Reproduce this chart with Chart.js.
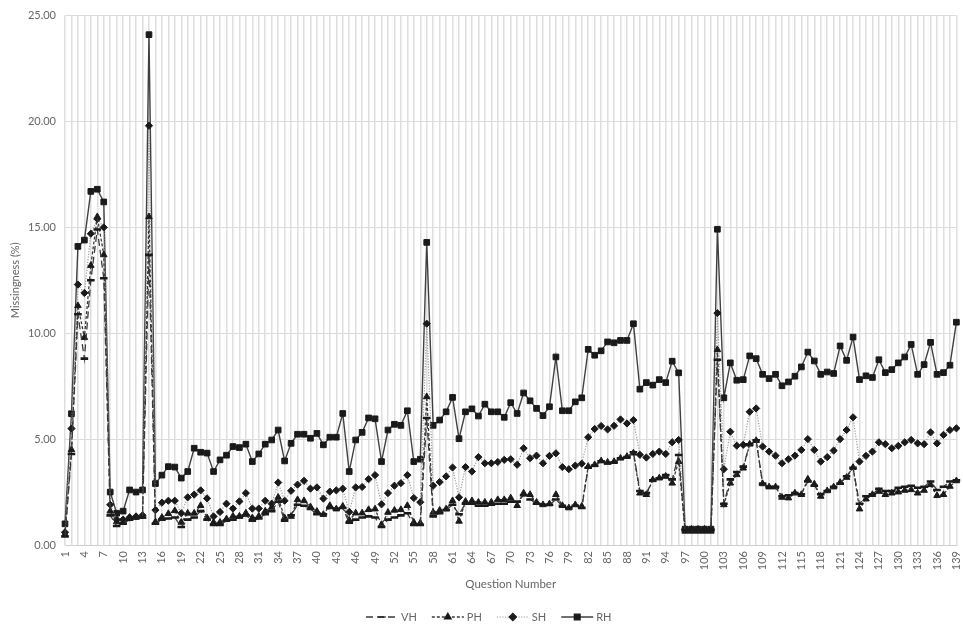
<!DOCTYPE html>
<html>
<head>
<meta charset="utf-8">
<script src="https://cdn.jsdelivr.net/npm/chart.js@4.4.0/dist/chart.umd.min.js"></script>
<style>
  html, body { margin: 0; padding: 0; background: #fff; }
  #wrap { width: 963px; height: 625px; position: relative; }
</style>
</head>
<body>
<div id="wrap"><canvas id="missingChart"></canvas></div>
<script>
// Question numbers 1..139 on the category axis
const questionNumbers = Array.from({ length: 139 }, (_, i) => String(i + 1));

const vhValues = [
  0.4, 4.3, 10.9, 8.8, 12.5, 14.9, 12.6, 1.4, 0.9, 1.0,
  1.2, 1.3, 1.3, 13.7, 1.0, 1.2, 1.25, 1.3, 0.85, 1.2,
  1.3, 1.6, 1.2, 0.95, 0.95, 1.15, 1.2, 1.3, 1.4, 1.15,
  1.25, 1.45, 1.6, 2.05, 1.15, 1.4, 1.9, 1.85, 1.7, 1.45,
  1.45, 1.75, 1.7, 1.75, 1.05, 1.2, 1.3, 1.35, 1.3, 0.85,
  1.2, 1.3, 1.4, 1.5, 0.95, 0.95, 6.0, 1.35, 1.5, 1.65,
  1.9, 1.45, 1.95, 1.95, 1.85, 1.85, 1.9, 1.95, 1.95, 2.05,
  2.05, 2.35, 2.15, 1.95, 1.9, 1.9, 2.15, 1.85, 1.75, 1.85,
  1.75, 3.65, 3.75, 3.95, 3.85, 3.9, 4.1, 4.15, 4.38, 2.55,
  2.45, 3.05, 3.15, 3.3, 3.1, 4.25, 0.7, 0.7, 0.7, 0.7,
  0.7, 8.75, 1.95, 3.1, 3.45, 3.7, 4.75, 4.95, 2.9, 2.75,
  2.75, 2.3, 2.35, 2.45, 2.4, 3.0, 2.8, 2.4, 2.55, 2.75,
  2.9, 3.25, 3.65, 1.95, 2.3, 2.4, 2.65, 2.55, 2.55, 2.7,
  2.75, 2.8, 2.7, 2.75, 3.0, 2.6, 2.75, 3.0, 3.05
];

const phValues = [
  0.5, 4.5, 11.3, 9.8, 13.2, 15.5, 13.7, 1.6, 1.1, 1.1,
  1.3, 1.3, 1.35, 15.5, 1.1, 1.3, 1.48, 1.62, 1.07, 1.5,
  1.5, 1.86, 1.28, 1.07, 1.07, 1.23, 1.36, 1.36, 1.51, 1.28,
  1.36, 1.6, 1.78, 2.25, 1.28, 1.35, 2.14, 2.09, 1.8, 1.59,
  1.44, 1.86, 1.7, 1.83, 1.17, 1.51, 1.51, 1.67, 1.7, 0.96,
  1.54, 1.64, 1.67, 1.86, 1.07, 1.04, 7.0, 1.54, 1.64, 1.7,
  2.09, 1.12, 2.06, 2.09, 2.02, 2.02, 2.02, 2.14, 2.14, 2.22,
  1.86, 2.45, 2.38, 2.02, 1.9, 1.94, 2.38, 1.86, 1.75, 1.9,
  1.83, 3.71, 3.79, 3.97, 3.91, 3.94, 4.1, 4.18, 4.34, 2.45,
  2.38, 3.08, 3.16, 3.24, 2.92, 3.94, 0.65, 0.65, 0.65, 0.65,
  0.65, 9.22, 1.9, 2.92, 3.32, 3.63, 4.76, 4.93, 2.89, 2.74,
  2.74, 2.25, 2.22, 2.45, 2.38, 3.11, 2.88, 2.3, 2.56, 2.74,
  2.95, 3.19, 3.66, 1.7, 2.17, 2.38, 2.53, 2.38, 2.45, 2.5,
  2.58, 2.61, 2.45, 2.58, 2.85, 2.33, 2.38, 2.77, 3.03
];

const shValues = [
  0.6, 5.5, 12.3, 11.9, 14.7, 15.4, 15.0, 1.9, 1.2, 1.2,
  1.3, 1.35, 1.4, 19.8, 1.65, 2.0, 2.09, 2.09, 1.5, 2.25,
  2.38, 2.58, 2.2, 1.35, 1.56, 1.95, 1.72, 2.06, 2.45, 1.72,
  1.72, 2.09, 1.95, 2.95, 2.09, 2.56, 2.85, 3.03, 2.66, 2.72,
  2.19, 2.52, 2.58, 2.66, 1.56, 2.72, 2.74, 3.11, 3.3, 1.92,
  2.45, 2.8, 2.92, 3.3, 2.22, 2.02, 10.45, 2.8, 2.97, 3.24,
  3.66, 2.25, 3.68, 3.47, 4.15, 3.86, 3.86, 3.92, 4.02, 4.05,
  3.79, 4.57, 4.1, 4.22, 3.86, 4.21, 4.33, 3.68, 3.58, 3.75,
  3.84, 5.09, 5.48, 5.62, 5.46, 5.63, 5.93, 5.74, 5.9, 4.26,
  4.13, 4.3, 4.41, 4.3, 4.85, 4.96, 0.75, 0.75, 0.75, 0.75,
  0.75, 10.95, 3.58, 5.35, 4.69, 4.73, 6.29, 6.45, 4.65, 4.41,
  4.22, 3.86, 4.05, 4.22, 4.49, 5.0, 4.49, 3.94, 4.15, 4.46,
  5.0, 5.43, 6.03, 3.94, 4.21, 4.41, 4.85, 4.76, 4.57, 4.68,
  4.85, 4.96, 4.8, 4.76, 5.32, 4.8, 5.2, 5.43, 5.51
];

const rhValues = [
  1.0, 6.2, 14.1, 14.4, 16.7, 16.8, 16.2, 2.5, 1.5, 1.6,
  2.6, 2.5, 2.6, 24.1, 2.9, 3.3, 3.7, 3.68, 3.16, 3.47,
  4.57, 4.38, 4.34, 3.47, 4.02, 4.24, 4.65, 4.6, 4.76, 3.94,
  4.3, 4.76, 4.96, 5.43, 3.97, 4.8, 5.23, 5.23, 5.04, 5.27,
  4.73, 5.09, 5.09, 6.21, 3.47, 4.96, 5.32, 6.0, 5.96, 3.94,
  5.43, 5.7, 5.65, 6.34, 3.94, 4.05, 14.29, 5.65, 5.9, 6.29,
  6.97, 5.02, 6.29, 6.43, 6.09, 6.65, 6.29, 6.29, 6.03, 6.72,
  6.21, 7.18, 6.81, 6.45, 6.11, 6.53, 8.88, 6.34, 6.34, 6.76,
  6.95, 9.24, 8.96, 9.17, 9.59, 9.55, 9.66, 9.66, 10.45, 7.36,
  7.67, 7.55, 7.81, 7.67, 8.68, 8.13, 0.75, 0.75, 0.75, 0.75,
  0.75, 14.91, 6.95, 8.6, 7.78, 7.81, 8.93, 8.8, 8.06, 7.86,
  8.06, 7.52, 7.7, 7.97, 8.41, 9.11, 8.69, 8.06, 8.17, 8.1,
  9.4, 8.72, 9.82, 7.81, 7.99, 7.91, 8.75, 8.14, 8.28, 8.6,
  8.88, 9.47, 8.06, 8.52, 9.57, 8.06, 8.14, 8.49, 10.52
];

const yTicks = [0, 5, 10, 15, 20, 25];

const FONT = 'Lato, "Open Sans", sans-serif';
const TEXT_GREY = '#666666';

// Legend drawn under the axis title: line sample with the marker in its middle
const bottomLegend = {
    id: 'bottomLegend',
    afterDraw(chart) {
        const ctx = chart.ctx;
        const y = 617;
        let x = 366;
        ctx.save();
        ctx.font = '11px ' + FONT;
        ctx.textBaseline = 'middle';
        chart.data.datasets.forEach(ds => {
            ctx.strokeStyle = ds.borderColor;
            ctx.lineWidth = ds.borderWidth;
            ctx.setLineDash(ds.borderDash || []);
            ctx.beginPath();
            ctx.moveTo(x, y);
            ctx.lineTo(x + 32, y);
            ctx.stroke();
            ctx.setLineDash([]);
            ctx.fillStyle = ds.pointBackgroundColor;
            ctx.strokeStyle = ds.pointBorderColor;
            Chart.helpers.drawPoint(ctx, {
                pointStyle: ds.pointStyle,
                radius: ds.pointRadius,
                borderWidth: ds.pointBorderWidth,
                rotation: 0
            }, x + 16, y);
            ctx.fillStyle = TEXT_GREY;
            ctx.fillText(ds.label, x + 35, y);
            x += 35 + ctx.measureText(ds.label).width + 15;
        });
        ctx.restore();
    }
};

document.addEventListener('DOMContentLoaded', () => {
    const ctx = document.getElementById('missingChart').getContext('2d');
    new Chart(ctx, {
        type: 'line',
        data: {
            labels: questionNumbers,
            datasets: [
                {
                    label: 'VH', data: vhValues,
                    borderColor: '#3a3a3a', borderWidth: 1.3, borderDash: [7, 4],
                    pointStyle: 'line', pointRadius: 3.8, pointBorderWidth: 2.6,
                    pointBackgroundColor: '#1a1a1a', pointBorderColor: '#1a1a1a'
                },
                {
                    label: 'PH', data: phValues,
                    borderColor: '#3a3a3a', borderWidth: 1.3, borderDash: [3, 2],
                    pointStyle: 'triangle', pointRadius: 3.8, pointBorderWidth: 1,
                    pointBackgroundColor: '#1a1a1a', pointBorderColor: '#1a1a1a'
                },
                {
                    label: 'SH', data: shValues,
                    borderColor: '#9a9a9a', borderWidth: 1.2, borderDash: [1.2, 1.5],
                    pointStyle: 'rectRot', pointRadius: 3.6, pointBorderWidth: 1,
                    pointBackgroundColor: '#1a1a1a', pointBorderColor: '#1a1a1a'
                },
                {
                    label: 'RH', data: rhValues,
                    borderColor: '#404040', borderWidth: 1.4,
                    pointStyle: 'rect', pointRadius: 4, pointBorderWidth: 1,
                    pointBackgroundColor: '#1a1a1a', pointBorderColor: '#1a1a1a'
                }
            ]
        },
        options: {
            responsive: true,
            maintainAspectRatio: false,
            animation: false,
            layout: { padding: { top: 7, right: 1, bottom: 30, left: 0 } },
            elements: { line: { tension: 0 } },
            plugins: {
                legend: { display: false },
                tooltip: { enabled: false }
            },
            scales: {
                x: {
                    offset: false,
                    grid: { color: '#dedede', lineWidth: 1.5, drawTicks: false },
                    border: { color: '#cfcfcf' },
                    ticks: {
                        autoSkip: false, maxRotation: 90, minRotation: 90, padding: 6,
                        color: TEXT_GREY, font: { family: FONT, size: 11 },
                        callback: (val, idx) => idx % 3 === 0 ? questionNumbers[idx] : ''
                    },
                    title: {
                        display: true, text: 'Question Number', color: TEXT_GREY,
                        font: { family: FONT, size: 11.5 }, padding: { top: 4, bottom: 4 }
                    },
                    afterFit: s => { s.height = 50; s.paddingLeft = 0; s.paddingRight = 0; }
                },
                y: {
                    min: 0, max: 25,
                    afterBuildTicks: s => { s.ticks = yTicks.map(v => ({ value: v })); },
                    grid: { color: '#dcdcdc', drawTicks: false },
                    border: { display: false },
                    ticks: {
                        padding: 9, color: TEXT_GREY, font: { family: FONT, size: 11 },
                        callback: v => Number(v).toFixed(2)
                    },
                    title: {
                        display: true, text: 'Missingness (%)', color: TEXT_GREY,
                        font: { family: FONT, size: 11 }, padding: { top: 9, bottom: 4 }
                    },
                    afterFit: s => { s.width = 65; }
                }
            }
        },
        plugins: [bottomLegend]
    });
});
</script>
</body>
</html>
